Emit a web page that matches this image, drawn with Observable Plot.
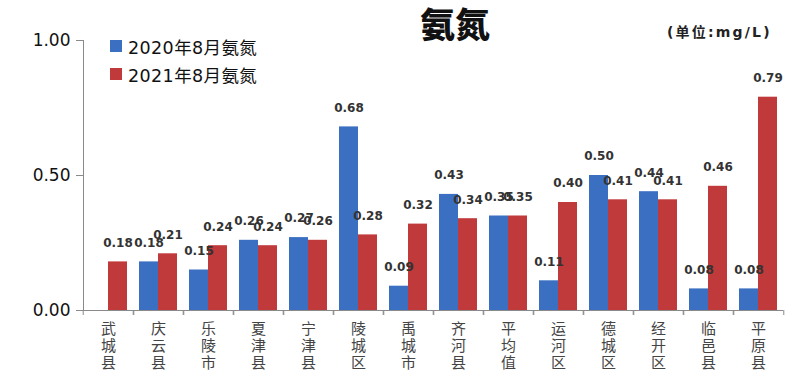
<!DOCTYPE html>
<html><head><meta charset="utf-8">
<script src="https://cdn.jsdelivr.net/npm/d3@7"></script>
<script src="https://cdn.jsdelivr.net/npm/@observablehq/plot@0.6"></script>
<style>
body{margin:0;background:#fff;}
#wrap{position:relative;width:800px;height:384px;overflow:hidden;}
#title{position:absolute;left:420px;top:3px;font:900 35px "Noto Sans CJK SC";color:#111;line-height:40px;}
#unit{position:absolute;left:667px;top:21px;font:bold 14px "DejaVu Sans","Noto Sans CJK SC";letter-spacing:2.2px;color:#222;}
#legend{position:absolute;left:110px;top:32px;font:17.5px "DejaVu Sans","Noto Sans CJK SC";letter-spacing:0.4px;color:#111;}
#legend .row{display:flex;align-items:center;height:28px;}
#legend .sw{width:12px;height:12px;margin-right:6px;}
</style></head><body>
<div id="wrap">
<div id="title">氨氮</div>
<div id="unit">(单位:mg/L)</div>
<div id="legend"></div>
</div>
<script>
const categories = ["武城县","庆云县","乐陵市","夏津县","宁津县","陵城区","禹城市","齐河县","平均值","运河区","德城区","经开区","临邑县","平原县"];
const seriesNames = ["2020年8月氨氮","2021年8月氨氮"];
const values2020 = [null,0.18,0.15,0.26,0.27,0.68,0.09,0.43,0.35,0.11,0.50,0.44,0.08,0.08];
const values2021 = [0.18,0.21,0.24,0.24,0.26,0.28,0.32,0.34,0.35,0.40,0.41,0.41,0.46,0.79];
const yTicks = [0, 0.5, 1];
const colors = ["#3b6fc2","#c0393b"];

const data = categories.flatMap((c,i)=>[
  {cat:c, s:seriesNames[0], v:values2020[i]},
  {cat:c, s:seriesNames[1], v:values2021[i]}
]).filter(d=>d.v!=null);

const width = 800, height = 384, mL = 79, mR = 13, mT = 40, mB = 74;
const W = (width - mL - mR) / categories.length;
const fmt = d3.format(".2f");
const axisColor = "#8a8a8a";

const chart = Plot.plot({
  width, height, marginLeft:mL, marginRight:mR, marginTop:mT, marginBottom:mB,
  fx:{domain:categories, paddingInner:0, paddingOuter:0, axis:null, label:null},
  x:{domain:seriesNames, paddingInner:0, paddingOuter:0.29, axis:null},
  y:{domain:[0,1], axis:null},
  color:{domain:seriesNames, range:colors},
  marks:[
    Plot.barY(data, {fx:"cat", x:"s", y:"v", fill:"s"}),
    Plot.ruleY([0], {stroke:axisColor}),
    Plot.frame({anchor:"left", stroke:axisColor, facetAnchor:"left"}),
    Plot.axisY({ticks:yTicks, tickFormat:fmt, tickSize:7, tickPadding:6, fontSize:17, stroke:axisColor, fill:"#111", fontFamily:"DejaVu Sans", label:null}),
    Plot.axisFx({anchor:"bottom", tickSize:5, dx:-W/2, fill:"none", stroke:axisColor, label:null}),
    Plot.axisFx([categories[categories.length-1]], {anchor:"bottom", tickSize:5, dx:W/2, fill:"none", stroke:axisColor, label:null}),
    Plot.axisFx({anchor:"bottom", tickSize:0, tickPadding:11, tickFormat:d=>[...d].join("\n"), lineHeight:1.15, fontSize:15, fill:"#444", fontFamily:"Noto Sans CJK SC", label:null}),
    Plot.text(data, {fx:"cat", x:"s", y:"v", text:d=>fmt(d.v), dy:-19, fontSize:12, fontWeight:"bold", fill:"#333", fontFamily:"DejaVu Sans"})
  ]
});
const wrap = document.getElementById("wrap");
wrap.insertBefore(chart, wrap.firstChild);

const legend = document.getElementById("legend");
seriesNames.forEach((s,i)=>{
  const row = document.createElement("div"); row.className="row";
  const sw = document.createElement("div"); sw.className="sw"; sw.style.background=colors[i];
  const t = document.createElement("span"); t.textContent = s;
  row.appendChild(sw); row.appendChild(t); legend.appendChild(row);
});
</script></body></html>
